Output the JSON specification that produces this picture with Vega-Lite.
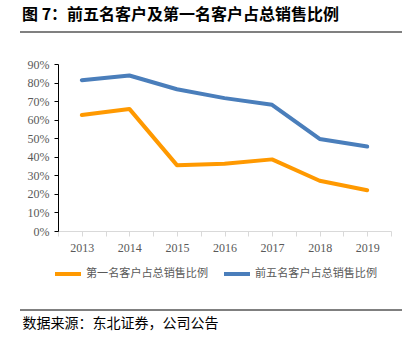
{
  "$schema": "https://vega.github.io/schema/vega-lite/v6.json",
  "width": 333,
  "height": 167,
  "autosize": {"type": "none"},
  "padding": {"left": 58, "top": 64, "right": 26, "bottom": 111},
  "background": "white",
  "config": {"view": {"stroke": null}},
  "title": {
    "text": "图 7：前五名客户及第一名客户占总销售比例",
    "anchor": "start",
    "frame": "group",
    "dx": -36,
    "offset": 0,
    "baseline": "middle",
    "font": "Noto Sans CJK SC",
    "fontSize": 16,
    "fontWeight": "bold",
    "color": "#000000"
  },
  "data": {
    "values": [
      {"year": 2013, "series": "第一名客户占总销售比例", "value": 0.625},
      {"year": 2014, "series": "第一名客户占总销售比例", "value": 0.658},
      {"year": 2015, "series": "第一名客户占总销售比例", "value": 0.355},
      {"year": 2016, "series": "第一名客户占总销售比例", "value": 0.363},
      {"year": 2017, "series": "第一名客户占总销售比例", "value": 0.386},
      {"year": 2018, "series": "第一名客户占总销售比例", "value": 0.271},
      {"year": 2019, "series": "第一名客户占总销售比例", "value": 0.22},
      {"year": 2013, "series": "前五名客户占总销售比例", "value": 0.813},
      {"year": 2014, "series": "前五名客户占总销售比例", "value": 0.838},
      {"year": 2015, "series": "前五名客户占总销售比例", "value": 0.764},
      {"year": 2016, "series": "前五名客户占总销售比例", "value": 0.716},
      {"year": 2017, "series": "前五名客户占总销售比例", "value": 0.68},
      {"year": 2018, "series": "前五名客户占总销售比例", "value": 0.496},
      {"year": 2019, "series": "前五名客户占总销售比例", "value": 0.455}
    ]
  },
  "layer": [
    {
      "mark": {"type": "line", "strokeWidth": 4, "strokeCap": "round", "strokeJoin": "round"},
      "encoding": {
        "x": {
          "field": "year",
          "type": "quantitative",
          "scale": {"domain": [2012.5, 2019.5], "nice": false, "zero": false},
          "axis": {
            "title": "数据来源：东北证券，公司公告",
            "titleX": -36,
            "titleY": 92,
            "titleAlign": "left",
            "titleBaseline": "middle",
            "titleFont": "Noto Sans CJK SC",
            "titleFontSize": 14,
            "titleFontWeight": "normal",
            "titleColor": "#000000",
            "values": [2012.5, 2013, 2013.5, 2014, 2014.5, 2015, 2015.5, 2016, 2016.5, 2017, 2017.5, 2018, 2018.5, 2019, 2019.5],
            "labelExpr": "datum.value % 1 ? '' : format(datum.value, 'd')",
            "grid": false,
            "domainColor": "#d9d9d9",
            "domainWidth": 1,
            "tickColor": "#d9d9d9",
            "tickSize": 5,
            "labelFont": "Liberation Serif",
            "labelFontSize": 12,
            "labelColor": "#595959",
            "labelPadding": 6,
            "labelOverlap": false,
            "labelFlush": false
          }
        },
        "y": {
          "field": "value",
          "type": "quantitative",
          "scale": {"domain": [0, 0.9], "nice": false},
          "axis": {
            "title": null,
            "values": [0, 0.1, 0.2, 0.3, 0.4, 0.5, 0.6, 0.7, 0.8, 0.9],
            "format": ".0%",
            "grid": false,
            "domainColor": "#000000",
            "domainWidth": 1,
            "tickColor": "#000000",
            "tickSize": 4,
            "labelFont": "Liberation Serif",
            "labelFontSize": 12,
            "labelColor": "#595959",
            "labelPadding": 5
          }
        },
        "color": {
          "field": "series",
          "type": "nominal",
          "scale": {
            "domain": ["第一名客户占总销售比例", "前五名客户占总销售比例"],
            "range": ["#FF9900", "#4A7EBB"]
          },
          "legend": {
            "title": null,
            "orient": "none",
            "legendX": -5,
            "legendY": 195,
            "direction": "horizontal",
            "symbolType": "stroke",
            "symbolStrokeWidth": 4,
            "symbolSize": 676,
            "labelFont": "Noto Sans CJK SC",
            "labelFontSize": 11.1,
            "labelColor": "#595959",
            "labelOffset": 3,
            "columnPadding": 7
          }
        }
      }
    },
    {
      "data": {"values": [{"k": "top"}]},
      "mark": {"type": "rule", "stroke": "#808080", "strokeWidth": 2},
      "encoding": {"x": {"value": -38}, "x2": {"value": 344}, "y": {"value": -32}}
    },
    {
      "data": {"values": [{"k": "bottom"}]},
      "mark": {"type": "rule", "stroke": "#000000", "strokeWidth": 1},
      "encoding": {"x": {"value": -38}, "x2": {"value": 344}, "y": {"value": 246}}
    }
  ]
}
